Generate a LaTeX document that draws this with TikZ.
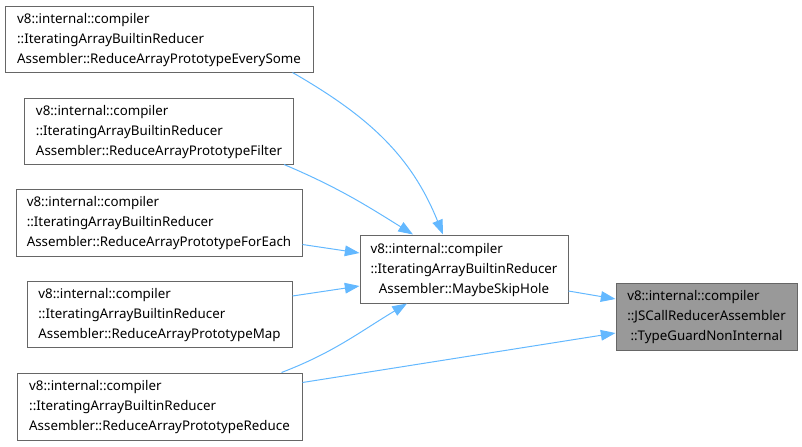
\documentclass[tikz,border=0pt]{standalone}
\usepackage{fontspec}
\setmainfont{Noto Sans}
\usepackage{xcolor}
\usetikzlibrary{arrows.meta, calc}
\definecolor{edg}{RGB}{99,184,255}
\definecolor{brd}{RGB}{102,102,102}
\definecolor{cur}{RGB}{153,153,153}
\tikzset{
  arr/.style={{Triangle[length=11pt,width=8pt]}-, line width=0.75pt, draw=edg},
  fn/.style={draw=brd, line width=0.75pt, fill=white, inner sep=0pt, align=center,
    font=\fontsize{10}{15}\selectfont},
  fncur/.style={fn, fill=cur}
}
% three-line doxygen label: first two lines left, last one centred
\newcommand{\fnlab}[3]{\begin{tabular}{@{}l@{}}#1\\#2\\\multicolumn{1}{@{}c@{}}{#3}\end{tabular}}
\renewcommand{\arraystretch}{1}

\begin{document}
\begin{tikzpicture}[x=0.75pt, y=-0.75pt]
\useasboundingbox (0,0) rectangle (802,446);
% ---------- callers ----------
\node[fn, minimum width=231pt, minimum height=49.5pt] (every) at (159,39)
  {\fnlab{v8::internal::compiler}{::IteratingArrayBuiltinReducer}{Assembler::ReduceArrayPrototypeEverySome}};
\node[fn, minimum width=201.75pt, minimum height=49.5pt] (filter) at (159,131)
  {\fnlab{v8::internal::compiler}{::IteratingArrayBuiltinReducer}{Assembler::ReduceArrayPrototypeFilter}};
\node[fn, minimum width=214.5pt, minimum height=50.25pt] (foreach) at (159,222.5)
  {\fnlab{v8::internal::compiler}{::IteratingArrayBuiltinReducer}{Assembler::ReduceArrayPrototypeForEach}};
\node[fn, minimum width=198.75pt, minimum height=49.5pt] (map) at (159.5,314)
  {\fnlab{v8::internal::compiler}{::IteratingArrayBuiltinReducer}{Assembler::ReduceArrayPrototypeMap}};
\node[fn, minimum width=213.75pt, minimum height=50.25pt] (reduce) at (159.5,406.5)
  {\fnlab{v8::internal::compiler}{::IteratingArrayBuiltinReducer}{Assembler::ReduceArrayPrototypeReduce}};
% ---------- middle and current ----------
\node[fn, minimum width=156pt, minimum height=51pt] (skip) at (464,269)
  {\fnlab{v8::internal::compiler}{::IteratingArrayBuiltinReducer}{Assembler::MaybeSkipHole}};
\node[fncur, minimum width=135.75pt, minimum height=50.25pt] (guard) at (706.5,316.5)
  {\fnlab{v8::internal::compiler}{::JSCallReducerAssembler}{::TypeGuardNonInternal}};
% ---------- connections ----------
\draw[arr] ($(skip.north)+(-21,0)$) to[out=112, in=-30] ($(every.south east)+(-21,0)$);
\draw[arr] ($(skip.north)+(-51,0)$) to[out=148, in=-23] ($(filter.south east)+(-10,0)$);
\draw[arr] ($(skip.west)+(0,-16)$) -- ($(foreach.east)+(0,22)$);
\draw[arr] ($(skip.west)+(0,17)$) -- ($(map.east)+(0,-18)$);
\draw[arr] ($(skip.south)+(-57,0)$) to[out=-149, in=21] ($(reduce.north)+(122,0)$);
\draw[arr] ($(guard.west)+(0,-17.5)$) -- ($(skip.east)+(0,22)$);
\draw[arr] ($(guard.west)+(0,16.5)$) -- ($(reduce.east)+(0,-24)$);
\end{tikzpicture}
\end{document}
